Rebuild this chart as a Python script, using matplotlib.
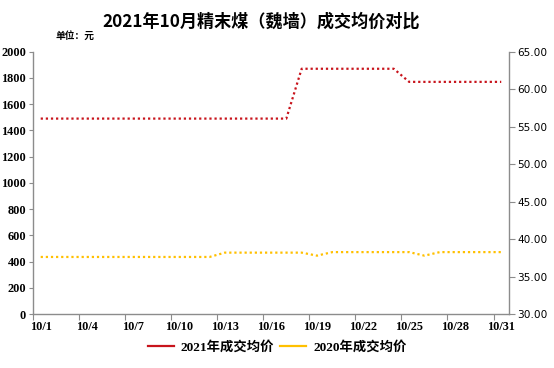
import numpy as np
import matplotlib
matplotlib.use('Agg')
import matplotlib.pyplot as plt
from matplotlib.lines import Line2D

plt.rcParams['font.family'] = ['Liberation Serif', 'Noto Sans CJK SC']

# --- data ---
days = [f'10/{d}' for d in range(1, 32)]
price_2021 = [1490] * 17 + [1870] * 7 + [1770] * 7
price_2020 = ([435] * 12 + [468] * 6 + [445] + [472] * 6 + [445] + [472] * 5)
tick_labels = days[::3]
right_ticks = [30, 35, 40, 45, 50, 55, 60, 65]

RED = '#C8141C'
YELLOW = '#FFC000'
GRAY = '#8C8C8C'

fig = plt.figure(figsize=(5.54, 3.68), dpi=100)
ax = fig.add_axes([0.0596, 0.1467, 0.859, 0.7128])
x = np.arange(len(days))
ax.plot(x, price_2021, color=RED, lw=1.6, linestyle=(0, (1, 1.3)))
ax.plot(x, price_2020, color=YELLOW, lw=1.6, linestyle=(0, (1, 1.3)))

ax.set_xlim(-0.5, len(days) - 0.5)
ax.set_ylim(0, 2000)
ax.set_yticks(np.arange(0, 2001, 200))
ax.tick_params(axis='y', length=3, width=0.8, color=GRAY, labelsize=8.8, pad=2)
for lab in ax.get_yticklabels():
    lab.set_fontweight('bold')

# tick marks between categories, labels on categories
ax.set_xticks(np.arange(-0.5, len(days), 3))
ax.set_xticklabels([])
ax.tick_params(axis='x', length=4, width=0.8, color=GRAY)
ax.set_xticks(np.arange(0, len(days), 3), minor=True)
ax.set_xticklabels(tick_labels, minor=True, fontsize=8.8, fontweight='bold')
ax.tick_params(axis='x', which='minor', length=0, pad=5)

for s in ['top', 'right']:
    ax.spines[s].set_visible(False)
for s in ['left', 'bottom']:
    ax.spines[s].set_color(GRAY)
    ax.spines[s].set_linewidth(1.0)

ax2 = ax.twinx()
ax2.set_ylim(30, 65)
ax2.set_yticks(right_ticks)
ax2.set_yticklabels([f'{v:.2f}' for v in right_ticks], family='DejaVu Sans', fontsize=7.6)
ax2.tick_params(axis='y', length=4, width=0.8, color=GRAY, pad=2)
for s in ['top', 'left', 'bottom']:
    ax2.spines[s].set_visible(False)
ax2.spines['right'].set_color(GRAY)
ax2.spines['right'].set_linewidth(1.0)

fig.text(0.472, 0.94, '2021年10月精末煤（魏墙）成交均价对比', ha='center', va='center',
         fontsize=12.3, fontweight='bold', family=['Noto Sans CJK SC'])
fig.text(0.1, 0.902, '单位：元', ha='left', va='center', fontsize=7,
         fontweight='bold', family=['Noto Sans CJK SC'])

handles = [Line2D([], [], color=RED, lw=1.6), Line2D([], [], color=YELLOW, lw=1.6)]
fig.legend(handles, ['2021年成交均价', '2020年成交均价'], loc='center',
           bbox_to_anchor=(0.5, 0.055), ncol=2, frameon=False,
           prop={'weight': 'bold', 'size': 9.6}, handlelength=2.0,
           handletextpad=0.5, columnspacing=0.4)

fig.savefig('out.png', dpi=100)
